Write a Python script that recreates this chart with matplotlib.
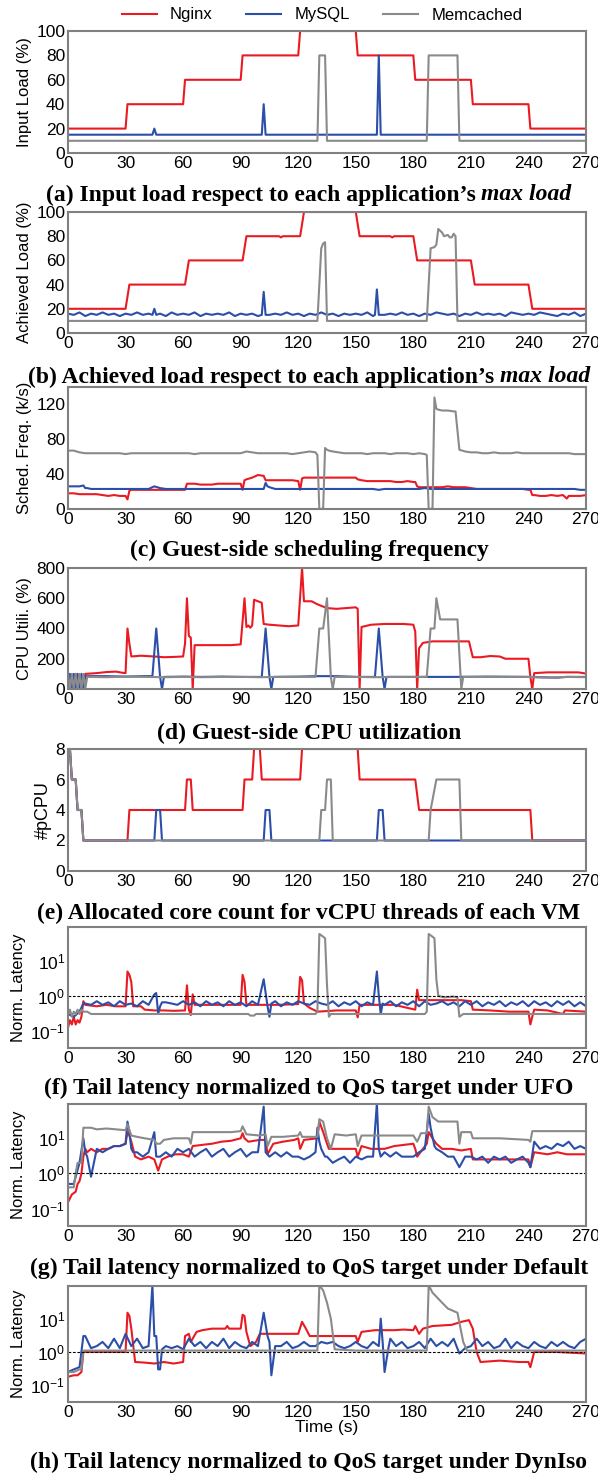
import numpy as np
import matplotlib
matplotlib.use('Agg')
import matplotlib.pyplot as plt
from matplotlib.ticker import NullLocator

plt.rcParams['font.family'] = ['Liberation Sans', 'DejaVu Sans']

W, H = 598, 1477
RED, BLUE, GRAY = '#ea1a22', '#2b4ea8', '#8a8a8a'
apps = ['Nginx', 'MySQL', 'Memcached']

# ---------------- (a) input load: (time, value) breakpoints
a_nginx = [(0, 20), (30, 20), (31, 40), (60, 40), (61, 60), (90, 60), (91, 80), (120, 80), (121, 100),
           (150, 100), (151, 80), (180, 80), (181, 60), (210, 60), (211, 40), (240, 40), (241, 20), (270, 20)]
a_mysql = [(0, 15), (44, 15), (45, 20), (46, 15), (101, 15), (102, 40), (103, 15), (161, 15), (162, 80),
           (163, 15), (270, 15)]
a_memc = [(0, 10), (130, 10), (131, 80), (134, 80), (135, 10), (187, 10), (188, 80), (203, 80), (204, 10), (270, 10)]

# ---------------- (b) achieved load
b_nginx = [(0, 20), (30, 20), (32, 40), (61, 40), (63, 60), (91, 60), (93, 80), (110, 80), (111, 79), (112, 80),
           (121, 80), (123, 100), (150, 100), (152, 80), (168, 80), (169, 79), (170, 80), (180, 80), (182, 60),
           (210, 60), (212, 40), (240, 40), (242, 20), (270, 20)]
# values every 3 s (0..270) plus event points
b_mysql_base = [16, 15, 17, 14, 16, 15, 17, 15, 16, 14,
                16, 15, 17, 15, 16, 15, 16, 14, 17, 15,
                16, 15, 17, 14, 16, 15, 16, 15, 17, 14,
                16, 15, 16, 14, 17, 15, 16, 15, 17, 15,
                16, 14, 16, 15, 17, 15, 16, 14, 16, 15,
                16, 15, 17, 14, 16, 15, 16, 15, 17, 15,
                16, 14, 16, 15, 17, 16, 15, 16, 14, 16,
                15, 17, 15, 16, 15, 16, 14, 17, 16, 15,
                16, 15, 17, 16, 15, 14, 16, 15, 17, 14,
                16]
b_mysql_ev = [(44, 15), (45, 20), (46, 15), (101, 15), (102, 34), (103, 15), (160, 15), (161, 36), (162, 15)]
b_memc = [(0, 10), (130, 10), (132, 70), (133, 74), (134, 75), (135, 10), (187, 10), (189, 70), (191, 71),
          (192, 73), (193, 86), (195, 83), (196, 80), (198, 81), (199, 79), (200, 79), (201, 82), (202, 80),
          (203, 10), (270, 10)]

# ---------------- (c) scheduling frequency (k/s)
c_nginx_base = [18, 18, 17, 17, 17, 17, 16, 15, 16, 15,
                15, 22, 22, 22, 22, 22, 22, 22, 22, 22,
                22, 29, 29, 28, 28, 28, 29, 29, 29, 29,
                29, 34, 36, 39, 38, 33, 33, 33, 33, 33,
                33, 36, 36, 36, 36, 36, 36, 36, 36, 36,
                36, 33, 32, 32, 32, 32, 32, 31, 31, 32,
                31, 25, 25, 25, 25, 25, 26, 25, 25, 25,
                24, 23, 23, 23, 23, 23, 23, 23, 23, 23,
                22, 16, 15, 15, 16, 15, 16, 15, 15, 15,
                16]
c_nginx_ev = [(30, 15), (31, 11), (32, 21), (61, 22), (62, 29), (91, 22), (92, 33), (103, 33), (120, 32),
              (121, 22), (122, 35), (151, 34), (181, 31), (182, 26), (241, 22), (242, 16), (260, 12)]
c_mysql_base = [26, 26, 26, 24, 23, 23, 23, 23, 23, 23,
                23, 23, 23, 23, 23, 26, 24, 23, 23, 23,
                23, 23, 23, 23, 23, 23, 23, 23, 23, 23,
                23, 23, 23, 23, 23, 25, 23, 23, 23, 23,
                23, 23, 23, 23, 23, 23, 23, 23, 23, 23,
                23, 23, 23, 23, 22, 23, 23, 23, 23, 23,
                23, 23, 24, 23, 23, 23, 23, 23, 23, 23,
                23, 23, 23, 23, 23, 23, 23, 23, 23, 23,
                23, 23, 23, 23, 23, 23, 23, 23, 23, 22,
                22]
c_mysql_ev = [(8, 27), (10, 24), (103, 30), (104, 26)]
c_memc_base = [67, 67, 65, 64, 64, 64, 64, 64, 64, 64,
               63, 64, 64, 64, 64, 64, 64, 64, 64, 64,
               64, 64, 63, 64, 64, 64, 64, 64, 64, 64,
               64, 66, 65, 64, 64, 64, 64, 64, 64, 63,
               64, 65, 66, 64, 0, 68, 66, 65, 64, 64,
               64, 64, 63, 64, 64, 64, 63, 64, 64, 64,
               63, 64, 63, 0, 115, 113, 113, 112, 68, 66,
               65, 65, 64, 64, 65, 64, 64, 64, 65, 64,
               64, 64, 64, 64, 64, 64, 64, 64, 63, 63,
               63]
c_memc_ev = [(129, 65), (130, 62), (131, 0), (133, 1), (134, 70), (136, 67), (187, 62), (188, 0), (190, 1),
             (191, 128), (193, 114), (202, 112), (203, 90), (204, 68)]

# ---------------- (d) CPU utilization (%)
d_nginx = [(0, 100), (1, 30), (2, 90), (3, 60), (4, 100), (6, 80), (8, 60), (9, 100), (15, 105), (20, 112),
           (25, 115), (28, 108), (30, 105), (31, 400), (32, 300), (33, 215), (38, 220), (45, 215), (50, 210),
           (55, 212), (60, 215), (61, 300), (62, 600), (63, 350), (64, 340), (65, 0), (66, 290), (75, 290),
           (85, 290), (90, 295), (92, 600), (93, 410), (94, 420), (95, 405), (96, 420), (97, 590), (99, 580),
           (101, 570), (102, 430), (105, 425), (110, 420), (115, 415), (120, 420), (122, 800), (123, 580),
           (127, 580), (130, 560), (135, 535), (140, 530), (145, 535), (150, 540), (151, 530), (152, 0),
           (153, 410), (158, 425), (165, 430), (175, 430), (180, 425), (181, 380), (182, 0), (183, 270),
           (185, 305), (190, 315), (200, 315), (209, 315), (211, 210), (215, 210), (220, 218), (225, 215),
           (228, 200), (235, 200), (240, 200), (241, 80), (242, 0), (243, 105), (250, 110), (260, 110),
           (266, 110), (270, 102)]
d_mysql = [(0, 0), (1, 100), (2, 0), (3, 100), (4, 0), (5, 100), (6, 0), (7, 100), (8, 0), (9, 85), (20, 85),
           (30, 82), (40, 85), (44, 85), (46, 400), (48, 80), (49, 0), (50, 80), (60, 82), (70, 80), (80, 82),
           (90, 80), (101, 80), (103, 400), (105, 80), (106, 0), (107, 80), (120, 82), (130, 85), (140, 85),
           (150, 80), (160, 80), (162, 400), (164, 80), (165, 0), (166, 80), (180, 80), (200, 80), (220, 82),
           (240, 80), (255, 75), (260, 80), (270, 80)]
d_memc = [(0, 100), (1, 0), (2, 100), (3, 0), (4, 100), (5, 0), (6, 100), (7, 0), (8, 100), (9, 0), (10, 80),
          (20, 78), (30, 82), (40, 80), (50, 78), (60, 80), (70, 78), (80, 80), (90, 80), (100, 78), (110, 80),
          (120, 80), (129, 80), (131, 400), (133, 400), (135, 600), (137, 80), (138, 0), (139, 80), (150, 80),
          (160, 78), (170, 80), (180, 80), (187, 80), (189, 400), (191, 400), (192, 600), (194, 460),
          (203, 460), (205, 0), (206, 80), (220, 80), (240, 80), (250, 75), (260, 80), (270, 78)]

# ---------------- (e) allocated pCPU
e_nginx = [(0, 8), (1, 8), (2, 6), (4, 6), (5, 4), (7, 4), (8, 2), (31, 2), (32, 4), (61, 4), (62, 6), (64, 6),
           (65, 4), (91, 4), (92, 6), (96, 6), (97, 8), (100, 8), (101, 6), (121, 6), (122, 8), (151, 8),
           (152, 6), (181, 6), (183, 4), (241, 4), (242, 2), (270, 2)]
e_mysql = [(0, 8), (1, 8), (2, 6), (4, 6), (5, 4), (7, 4), (8, 2), (45, 2), (46, 4), (48, 4), (49, 2),
           (102, 2), (103, 4), (105, 4), (106, 2), (161, 2), (162, 4), (164, 4), (165, 2), (270, 2)]
e_memc = [(0, 8), (1, 8), (2, 6), (4, 6), (5, 4), (7, 4), (8, 2), (131, 2), (132, 4), (134, 4), (135, 6),
          (137, 6), (138, 2), (188, 2), (189, 4), (192, 6), (204, 6), (205, 2), (270, 2)]

# ---------------- (f) normalized latency, UFO
f_nginx = [(0, 0.12), (1, 0.2), (2, 0.15), (3, 0.25), (4, 0.15), (5, 0.2), (6, 0.17), (7, 0.25), (8, 0.7),
           (9, 0.55), (15, 0.5), (20, 0.55), (25, 0.5), (30, 0.5), (31, 5), (32, 4), (33, 2.5), (34, 0.5),
           (38, 0.5), (40, 0.4), (45, 0.38), (50, 0.38), (55, 0.37), (61, 0.38), (62, 2), (63, 0.4),
           (64, 0.28), (65, 1.1), (66, 0.55), (75, 0.55), (85, 0.55), (90, 0.55), (91, 4), (92, 2.5),
           (93, 0.55), (100, 0.55), (110, 0.55), (120, 0.58), (121, 3.5), (122, 2.8), (123, 0.6), (126, 0.45),
           (130, 0.35), (140, 0.38), (150, 0.38), (151, 0.24), (152, 0.55), (160, 0.55), (170, 0.55),
           (181, 0.4), (182, 1.5), (183, 0.75), (195, 0.75), (205, 0.75), (210, 0.7), (211, 0.4), (220, 0.38),
           (230, 0.35), (240, 0.35), (241, 0.15), (242, 0.25), (243, 0.4), (250, 0.38), (258, 0.3),
           (259, 0.38), (270, 0.35)]
f_mysql_base = [0.3, 0.25, 0.35, 0.6, 0.55, 0.7, 0.55, 0.65, 0.5, 0.7,
                0.55, 0.6, 0.5, 0.7, 0.55, 1.1, 0.5, 0.65, 0.6, 0.55,
                0.7, 0.55, 0.65, 0.5, 0.7, 0.55, 0.65, 0.5, 0.7, 0.55,
                0.65, 0.5, 0.7, 0.55, 2.5, 0.55, 0.7, 0.5, 0.65, 0.55,
                0.7, 0.6, 0.55, 0.7, 0.6, 0.55, 0.7, 0.5, 0.65, 0.55,
                0.7, 0.5, 0.65, 0.55, 4.5, 0.55, 0.7, 0.5, 0.65, 0.55,
                0.7, 0.5, 0.7, 0.55, 0.6, 0.7, 0.55, 0.65, 0.5, 0.7,
                0.55, 0.7, 0.5, 0.65, 0.55, 0.7, 0.5, 0.65, 0.55, 0.7,
                0.5, 0.7, 0.55, 0.65, 0.5, 0.7, 0.55, 0.7, 0.5, 0.65,
                0.5]
f_mysql_ev = [(8, 0.6), (46, 1.2), (47, 0.3), (49, 0.65), (102, 3), (104, 0.5), (105, 0.25), (106, 0.6),
              (161, 5), (162, 1), (163, 0.3), (164, 0.6)]
f_memc = [(0, 0.3), (1, 0.4), (2, 0.25), (3, 0.35), (4, 0.3), (5, 0.4), (6, 0.3), (7, 0.4), (8, 0.35),
          (10, 0.35), (12, 0.3), (30, 0.3), (60, 0.3), (94, 0.3), (95, 0.27), (97, 0.27), (98, 0.3), (129, 0.3),
          (130, 0.35), (131, 60), (133, 50), (134, 45), (135, 2), (136, 0.25), (137, 0.3), (186, 0.3),
          (187, 0.35), (188, 60), (190, 50), (191, 45), (192, 3), (193, 1), (196, 0.9), (201, 0.95),
          (203, 0.9), (204, 0.25), (206, 0.3), (270, 0.3)]

# ---------------- (g) normalized latency, Default
g_nginx = [(0, 0.15), (2, 0.25), (4, 0.3), (5, 0.5), (6, 0.6), (7, 1), (8, 3), (9, 5), (10, 4), (12, 5),
           (15, 4), (18, 5), (21, 5), (24, 6), (27, 6), (30, 7), (31, 15), (32, 12), (33, 8), (35, 3),
           (38, 2.5), (42, 3), (45, 2.5), (47, 1.2), (49, 2.5), (52, 3), (56, 3.5), (60, 3.5), (63, 3), (65, 6),
           (70, 6.5), (75, 7), (80, 8), (85, 8.5), (90, 10), (91, 14), (92, 10), (94, 8), (100, 9), (103, 9),
           (104, 3.5), (107, 7), (112, 8), (118, 9), (120, 10), (121, 5), (123, 9), (130, 10), (131, 30),
           (133, 15), (135, 7), (136, 5), (140, 5), (150, 5), (151, 3), (153, 6), (158, 5), (165, 5), (170, 6),
           (180, 7), (181, 5), (182, 3), (185, 5), (187, 7), (188, 15), (190, 10), (192, 7), (195, 5), (200, 5),
           (205, 4.5), (210, 5), (211, 2.5), (220, 2.5), (230, 2.5), (240, 2.5), (241, 1.5), (243, 4),
           (250, 3.5), (255, 4), (260, 3.5), (270, 3.5)]
g_mysql_base = [0.5, 0.5, 2, 4, 0.8, 5, 4, 5, 6, 6,
                7, 5, 4, 3, 4, 15, 3, 4, 3, 5,
                4, 5, 3, 4, 5, 3, 4, 5, 3, 4,
                5, 3, 4, 4, 80, 3, 4, 3, 4, 3,
                3, 2.5, 3, 4, 5, 3, 2, 2.5, 3, 2,
                3, 2.5, 3, 3, 3, 4, 3, 4, 3, 3,
                3, 4, 5, 30, 5, 4, 3, 3, 1.5, 3,
                3, 2.5, 3, 2, 3, 2.5, 3, 2, 2.5, 3,
                2, 8, 5, 6, 5, 7, 6, 8, 5, 6,
                5]
g_mysql_ev = [(8, 10), (10, 3), (31, 30), (32, 15), (34, 4), (46, 3), (102, 80), (103, 4), (130, 20),
              (131, 8), (134, 3), (161, 100), (162, 5), (163, 3), (188, 50), (189, 20), (191, 6), (241, 1.5),
              (243, 8)]
g_memc = [(0, 0.4), (3, 0.4), (4, 1), (5, 2), (7, 2), (8, 20), (12, 20), (15, 18), (20, 19), (25, 18),
          (30, 17), (31, 25), (33, 12), (36, 11), (40, 10), (45, 9), (46, 7), (48, 7), (50, 9), (55, 10),
          (60, 10), (63, 10), (64, 7), (65, 15), (75, 15), (85, 15), (90, 16), (91, 22), (93, 13), (100, 12),
          (103, 13), (104, 6), (106, 11), (112, 11), (120, 12), (121, 15), (122, 11), (130, 11), (131, 35),
          (133, 30), (135, 10), (137, 5), (139, 13), (145, 12), (150, 13), (151, 6), (153, 12), (160, 12),
          (166, 12), (175, 12), (180, 12), (182, 8), (184, 14), (187, 14), (188, 80), (190, 40), (193, 30),
          (203, 30), (204, 7), (205, 15), (210, 15), (211, 10), (225, 10), (240, 9), (241, 8), (242, 16),
          (255, 16), (270, 16)]

# ---------------- (h) normalized latency, DynIso
h_nginx = [(0, 0.18), (3, 0.2), (5, 0.2), (7, 0.25), (8, 1), (15, 1), (20, 1), (30, 1), (31, 15), (32, 12),
           (33, 5), (35, 0.5), (40, 0.48), (45, 0.45), (50, 0.5), (55, 0.45), (60, 0.5), (61, 3), (63, 3.5),
           (64, 2), (67, 4), (70, 4.5), (75, 5), (82, 5), (83, 6), (84, 5), (90, 5), (91, 13), (92, 12), (93, 4),
           (95, 1.5), (98, 2), (100, 3.5), (110, 3.5), (120, 3.5), (122, 8), (124, 5), (126, 3), (135, 3),
           (145, 3), (150, 3), (151, 2), (153, 4), (160, 4.5), (170, 4.5), (175, 4.7), (180, 4.5), (181, 6),
           (183, 3.5), (185, 5), (190, 6), (200, 6.5), (205, 8), (209, 9), (211, 5), (213, 1), (215, 0.5),
           (225, 0.55), (235, 0.5), (240, 0.5), (241, 0.35), (243, 1), (255, 1), (270, 0.9)]
h_mysql_base = [0.25, 0.3, 0.35, 3, 1.3, 1.5, 2, 1.3, 2.5, 1.3,
                3.5, 1.5, 2.5, 1.3, 1.5, 3, 0.3, 1.5, 1.3, 1.5,
                1.2, 2.5, 1.5, 2, 1.3, 2, 1.5, 2.5, 1.3, 2,
                1.5, 1.3, 2, 1.5, 12, 2, 1.5, 1.5, 2, 1.3,
                1.5, 2, 1.5, 1.5, 2, 1.8, 2, 1.5, 1.3, 1.5,
                2, 1.5, 1.3, 2, 1.5, 1.3, 2.5, 1.5, 2, 1.3,
                1.5, 2, 1.3, 2.5, 1.5, 2, 1.5, 2.5, 1.5, 1.3,
                1.5, 2.5, 1.5, 2, 1.3, 1.5, 2.5, 1.3, 2, 1.5,
                1.3, 2, 1.5, 1.3, 2, 1.5, 2, 1.5, 1.3, 2,
                2.5]
h_mysql_ev = [(8, 3), (44, 100), (46, 3), (47, 0.3), (49, 1.2), (102, 15), (104, 3), (106, 0.2), (108, 1.5),
              (163, 10), (164, 2), (165, 0.25), (167, 1.3), (204, 0.9)]
h_memc = [(0, 0.25), (3, 0.25), (6, 0.3), (7, 0.3), (8, 1.1), (60, 1.1), (130, 1.1), (131, 100), (133, 70),
          (135, 30), (137, 10), (139, 1.2), (150, 1.1), (187, 1.1), (188, 100), (190, 60), (195, 30), (198, 20),
          (203, 15), (206, 2), (208, 1.1), (270, 1.1)]


def pts(pairs):
    t, v = zip(*pairs)
    return list(t), list(v)


def trace(base, events):
    # base values every 3 s, event points replace or add samples
    d = {3 * i: v for i, v in enumerate(base)}
    d.update(dict(events))
    t = sorted(d)
    return t, [d[k] for k in t]


panels = [
    # top px, bottom px, ylabel, ylim, yticks, log, series, caption, italic part, caption y px
    (31, 153, 'Input Load (%)', (0, 100), [0, 20, 40, 60, 80, 100], False,
     [pts(a_nginx), pts(a_mysql), pts(a_memc)],
     '(a) Input load respect to each application\u2019s', 'max load', 195),
    (212, 333, 'Achieved Load (%)', (0, 100), [0, 20, 40, 60, 80, 100], False,
     [pts(b_nginx), trace(b_mysql_base, b_mysql_ev), pts(b_memc)],
     '(b) Achieved load respect to each application\u2019s', 'max load', 377),
    (387, 509, 'Sched. Freq. (k/s)', (0, 140), [0, 40, 80, 120], False,
     [trace(c_nginx_base, c_nginx_ev), trace(c_mysql_base, c_mysql_ev), trace(c_memc_base, c_memc_ev)],
     '(c) Guest-side scheduling frequency', '', 550),
    (568, 689, 'CPU Utili. (%)', (0, 800), [0, 200, 400, 600, 800], False,
     [pts(d_nginx), pts(d_mysql), pts(d_memc)],
     '(d) Guest-side CPU utilization', '', 733),
    (749, 871, '#pCPU', (0, 8), [0, 2, 4, 6, 8], False,
     [pts(e_nginx), pts(e_mysql), pts(e_memc)],
     '(e) Allocated core count for vCPU threads of each VM', '', 913),
    (927, 1048, 'Norm. Latency', (10 ** -1.5, 95), [0.1, 1, 10], True,
     [pts(f_nginx), trace(f_mysql_base, f_mysql_ev), pts(f_memc)],
     '(f) Tail latency normalized to QoS target under UFO', '', 1088),
    (1104, 1226, 'Norm. Latency', (10 ** -1.5, 95), [0.1, 1, 10], True,
     [pts(g_nginx), trace(g_mysql_base, g_mysql_ev), pts(g_memc)],
     '(g) Tail latency normalized to QoS target under Default', '', 1268),
    (1286, 1402, 'Norm. Latency', (10 ** -1.5, 95), [0.1, 1, 10], True,
     [pts(h_nginx), trace(h_mysql_base, h_mysql_ev), pts(h_memc)],
     '(h) Tail latency normalized to QoS target under DynIso', '', 1462),
]

fig = plt.figure(figsize=(W / 100, H / 100), dpi=100)
L, R = 68, 586
colors = [RED, BLUE, GRAY]
handles = []
for i, (top, bot, ylab, ylim, yt, logy, series, cap, ital, cy) in enumerate(panels):
    ax = fig.add_axes([L / W, 1 - bot / H, (R - L) / W, (bot - top) / H])
    for (t, v), c, name in zip(series, colors, apps):
        ln, = ax.plot(t, v, color=c, lw=1.5, label=name)
        if i == 0:
            handles.append(ln)
    if logy:
        ax.set_yscale('log')
        ax.axhline(1, color='black', ls=(0, (2.5, 1.5)), lw=0.8)
    ax.set_ylim(*ylim)
    ax.set_yticks(yt)
    if logy:
        ax.yaxis.set_minor_locator(NullLocator())
    ax.set_xlim(0, 270)
    ax.set_xticks(range(0, 271, 30))
    ax.set_ylabel(ylab, fontsize=13 if ylab == '#pCPU' else 12, labelpad=3)
    ax.tick_params(length=0, labelsize=12.5, pad=2)
    for s in ax.spines.values():
        s.set_color('#808080')
        s.set_linewidth(1.5)
    if i == len(panels) - 1:
        ax.set_xlabel('Time (s)', fontsize=12.5, labelpad=0)

    # caption under the panel, bold serif with optional italic tail
    y = 1 - cy / H
    t1 = fig.text(0, y, cap, fontfamily='Liberation Serif', fontweight='bold', fontsize=17, va='center')
    t2 = None
    if ital:
        t2 = fig.text(0, y, ital, fontfamily='Liberation Serif', fontweight='bold', fontstyle='italic',
                      fontsize=17, va='center')
    r = fig.canvas.get_renderer()
    w1 = t1.get_window_extent(r).width
    gap = 5
    w2 = t2.get_window_extent(r).width + gap if t2 else 0
    x0 = 309 - (w1 + w2) / 2
    t1.set_x(x0 / W)
    if t2:
        t2.set_x((x0 + w1 + gap) / W)

fig.legend(handles=handles, loc='center', bbox_to_anchor=(322 / W, 1 - 15 / H), ncol=3, frameon=False,
           fontsize=12, handlelength=2.1, handletextpad=0.8, columnspacing=2.0)

fig.savefig('out.png', dpi=100)
